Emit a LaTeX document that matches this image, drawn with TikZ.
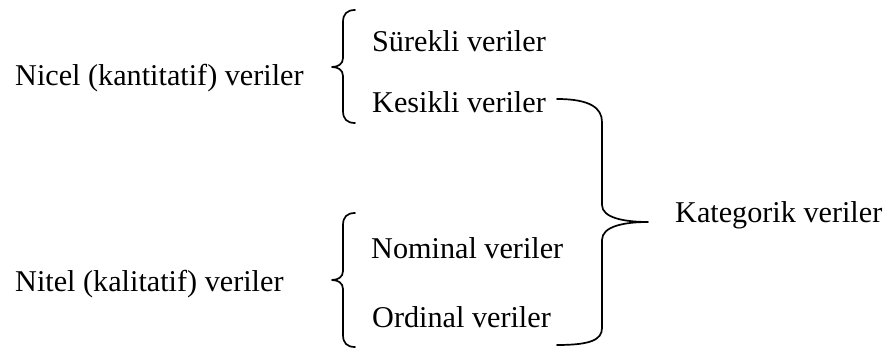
\documentclass[tikz,border=0pt]{standalone}
\usepackage{fontspec}
\setmainfont{Liberation Serif}
\begin{document}
\begin{tikzpicture}[x=1pt,y=-1pt,
  label text/.style={anchor=base west,inner sep=0pt,font=\fontsize{30.2}{36}\selectfont},
  brace line/.style={draw=black,line width=1.7pt,line cap=round,line join=round}]
\useasboundingbox[fill=white] (0,0) rectangle (886,350);

% left-hand categories
\node[label text] (nicel) at (15,86) {Nicel (kantitatif) veriler};
\node[label text] (nitel) at (15,291) {Nitel (kalitatif) veriler};

% sub-types
\node[label text] (surekli) at (372,52) {Sürekli veriler};
\node[label text] (kesikli) at (372,113) {Kesikli veriler};
\node[label text] (nominal) at (371,258) {Nominal veriler};
\node[label text] (ordinal) at (372,327) {Ordinal veriler};

% grouping on the right
\node[label text] (kategorik) at (675,222) {Kategorik veriler};

% brace grouping the quantitative sub-types
\path[brace line] (355,10) .. controls (347,10) and (343,14) .. (343,22)
  -- (343,58) .. controls (343,64) and (338,67) .. (332,67)
  .. controls (338,67) and (343,70) .. (343,76)
  -- (343,111) .. controls (343,119) and (347,123) .. (355,123);

% brace grouping the qualitative sub-types
\path[brace line] (355,213) .. controls (347,213) and (343,217) .. (343,225)
  -- (343,271) .. controls (343,277) and (338,280) .. (332,280)
  .. controls (338,280) and (343,283) .. (343,289)
  -- (343,335) .. controls (343,343) and (347,347) .. (355,347);

% closing brace joining the categorical types
\path[brace line] (557,99) .. controls (590,99) and (602,108) .. (602,122)
  -- (602,205) .. controls (602,218) and (625,222) .. (648,222)
  .. controls (625,222) and (602,226) .. (602,240)
  -- (602,328) .. controls (602,340) and (590,345) .. (557,345);
\end{tikzpicture}
\end{document}
